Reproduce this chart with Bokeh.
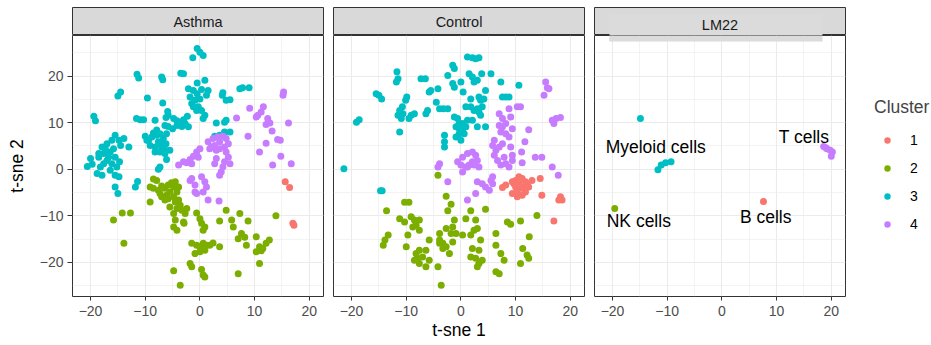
from bokeh.plotting import figure
from bokeh.layouts import column, row
from bokeh.models import FixedTicker, Legend, LegendItem, BoxAnnotation, Range1d, Label
from bokeh.core.properties import value
from bokeh.embed import file_html
from bokeh.resources import INLINE

# ---------------- data ----------------
panels = ["Asthma", "Control", "LM22"]
clusters = ["1", "2", "3", "4"]
cluster_colors = ["#F8766D", "#7CAE00", "#00BFC4", "#C77CFF"]
ticks = [-20, -10, 0, 10, 20]
minor_ticks = [-25, -15, -5, 5, 15, 25]
x_limits = (-23.3, 22.6)
y_limits = (-27.3, 28.7)

asthma_c1 = [(15.6, -2.7), (16.4, -3.9), (17.0, -11.6), (17.2, -12.0)]
asthma_c2 = [(-8.5, -2.1), (-7.9, -2.4), (-9.1, -3.8), (-8.5, -4.1), (-7.6, -4.5), (-7.0, -3.6), (-6.4, -4.1),
             (-5.8, -3.4), (-5.2, -2.9), (-4.5, -2.7), (-4.8, -3.8), (-5.5, -4.9), (-6.1, -5.6), (-7.0, -5.9),
             (-7.3, -5.2), (-6.4, -6.6), (-5.8, -6.3), (-4.8, -5.9), (-4.2, -4.9), (-3.9, -3.8), (-3.9, -6.6),
             (-4.5, -7.0), (-5.5, -8.1), (-4.2, -8.4), (-4.8, -9.5), (-3.6, -7.7), (-3.3, -8.8), (-2.7, -9.5),
             (-2.4, -8.4), (-3.0, -11.3), (-2.9, -11.6), (-4.5, -10.9), (-4.8, -12.4), (-4.2, -13.1), (-9.1, -7.0),
             (-15.8, -10.9), (-14.2, -9.4), (-12.7, -9.4), (-13.9, -15.9), (-0.6, -9.4), (0.0, -10.6), (0.3, -11.6),
             (0.9, -12.4), (0.6, -13.1), (3.6, -11.1), (4.8, -8.8), (5.8, -10.9), (6.1, -12.4), (7.3, -9.5),
             (8.8, -11.1), (7.6, -13.8), (7.0, -14.9), (8.2, -14.6), (8.5, -16.3), (10.3, -14.5), (10.9, -16.6),
             (11.5, -17.0), (12.1, -15.9), (12.7, -15.2), (10.3, -17.7), (11.2, -17.5), (10.9, -20.2), (13.9, -10.0),
             (-1.5, -15.9), (-0.6, -16.3), (0.0, -16.6), (0.6, -15.9), (1.2, -16.3), (1.8, -16.3), (2.4, -15.8),
             (3.6, -16.6), (0.0, -17.7), (-0.9, -18.1), (0.9, -17.4), (-1.8, -20.2), (-1.5, -20.9), (0.3, -21.5),
             (0.6, -22.7), (0.9, -23.1), (7.0, -22.4), (-4.8, -21.8), (-3.6, -24.9)]
asthma_c3 = [(-0.5, 25.9), (0.0, 25.1), (-1.3, 23.9), (0.6, 24.4), (-11.5, 20.4), (-11.2, 19.6), (-7.0, 19.8),
             (-6.8, 19.2), (-3.5, 20.6), (-3.0, 20.5), (-0.5, 18.5), (0.9, 19.1), (-2.1, 17.3), (-1.2, 16.9),
             (-0.5, 16.2), (0.3, 17.1), (1.5, 16.9), (1.2, 15.9), (0.0, 15.1), (-1.8, 15.5), (-0.9, 14.8),
             (-1.5, 14.1), (-0.3, 13.4), (0.3, 12.6), (0.9, 11.6), (0.6, 10.9), (-0.6, 12.6), (-1.2, 13.4),
             (-14.5, 16.6), (-15.0, 15.7), (-9.6, 15.3), (-6.8, 14.2), (4.2, 16.4), (4.8, 14.8), (5.5, 14.9),
             (4.1, 15.9), (7.3, 17.3), (7.8, 17.5), (9.0, 17.5), (-19.4, 11.4), (-19.1, 10.4), (-11.6, 10.9),
             (-10.9, 10.6), (-10.3, 10.6), (-8.2, 10.5), (-5.9, 12.4), (-5.8, 11.6), (-6.2, 11.1), (-4.8, 10.9),
             (-4.2, 10.4), (-3.6, 9.9), (-3.0, 10.6), (-2.3, 11.4), (-2.7, 9.8), (-2.1, 9.1), (-3.3, 9.2),
             (-4.2, 9.4), (-5.0, 8.7), (-5.8, 9.2), (-6.4, 9.4), (3.0, 9.9), (4.5, 10.1), (4.8, 10.5), (5.5, 8.0),
             (4.5, 8.0), (2.7, 7.1), (3.6, 7.3),
             (-20.0, 2.3), (-20.6, 0.6), (-19.7, 1.1), (-18.8, -0.9), (-17.9, -1.3), (-18.2, 0.5), (-17.6, 1.2),
             (-18.5, 3.4), (-17.9, 4.8), (-17.3, 4.4), (-17.0, 5.5), (-16.1, 6.2), (-15.5, 7.3), (-14.8, 6.2),
             (-13.9, 6.6), (-14.5, 5.1), (-15.8, 4.4), (-16.4, 3.7), (-16.7, 2.6), (-17.0, 1.9), (-16.1, 1.2),
             (-15.2, 0.5), (-14.7, 1.6), (-15.5, 2.6), (-17.6, 3.4), (-18.5, 2.6), (-16.4, -0.2), (-15.5, -1.3),
             (-14.8, -1.6), (-13.0, 4.8), (-15.5, -3.8), (-15.0, -5.2), (-11.8, -3.8), (-11.4, -2.6),
             (-10.0, 7.1), (-9.4, 6.2), (-8.5, 7.8), (-7.9, 7.3), (-7.3, 7.6), (-6.7, 6.6), (-7.6, 5.9),
             (-8.2, 4.8), (-9.1, 5.1), (-7.0, 4.8), (-6.2, 5.5), (-7.3, 3.7), (-6.4, 3.4), (-6.1, 2.1),
             (-5.5, 4.1), (-8.2, 3.7), (-7.3, 0.5), (-7.6, 0.0), (-8.8, 6.9), (-7.9, 8.4), (-9.7, 6.2),
             (-6.1, 7.6), (-7.3, 5.5), (-6.5, 4.4)]
asthma_c4 = [(15.3, 16.6), (15.2, 15.9), (9.1, 13.1), (10.6, 11.6), (11.2, 12.3), (11.6, 13.4), (10.3, 11.2),
             (12.4, 10.9), (12.8, 9.9), (12.1, 9.6), (13.2, 8.2), (14.2, 6.4), (14.7, 6.2), (12.1, 5.6),
             (10.9, 3.7), (13.3, 0.9), (14.8, 2.8), (16.2, 9.9), (16.7, 1.2), (6.7, 11.0), (8.8, 7.1),
             (1.5, 5.9), (2.4, 6.6), (3.3, 6.9), (4.2, 7.1), (4.8, 6.6), (3.6, 5.9), (2.7, 5.1), (2.1, 4.8),
             (3.0, 4.1), (3.6, 4.4), (4.5, 4.8), (5.2, 5.5), (4.8, 3.7), (5.2, 2.6), (5.5, 1.2), (4.5, 1.6),
             (4.2, 0.5), (3.9, -0.6), (3.6, -1.3), (3.0, 2.3), (2.7, 1.2), (1.8, 4.4), (0.0, 4.4), (-0.6, 3.7),
             (-1.2, 2.8), (-1.8, 2.1), (-2.4, 1.4), (-3.0, 1.6), (-3.9, 0.9), (-1.5, 1.2), (-0.3, 2.6),
             (-1.5, -2.0), (-1.8, -2.4), (-0.9, -3.4), (-0.9, -4.9), (-0.6, -5.2), (0.3, -1.6), (0.9, -2.7),
             (1.2, -3.8), (0.6, -4.9), (1.5, -6.6), (3.5, -6.8)]

control_c1 = [(7.6, -3.9), (8.2, -3.4), (9.4, -2.7), (10.0, -2.4), (10.6, -1.6), (11.2, -2.0), (11.8, -2.7),
              (12.4, -3.8), (11.8, -4.9), (11.2, -5.6), (10.3, -5.9), (9.4, -5.2), (10.0, -3.8), (10.6, -3.1),
              (11.5, -3.8), (13.0, -2.4), (14.5, -2.0), (14.8, -5.6), (18.2, -5.9), (18.5, -6.6), (17.9, -6.6),
              (17.0, -11.1), (10.9, -4.1), (10.3, -4.9), (12.1, -3.1), (9.7, -3.1)]
control_c2 = [(-4.2, -1.3), (-10.3, -7.1), (-9.5, -7.1), (-13.6, -8.9), (-11.2, -10.6), (-10.3, -11.3),
              (-9.1, -10.2), (-8.5, -10.9), (-8.2, -12.0), (-7.6, -13.1), (-8.8, -12.4), (-7.6, -10.9),
              (-9.7, -14.1), (-10.0, -16.6), (-13.9, -15.2), (-14.2, -16.3), (-13.3, -14.1), (-2.7, -5.8),
              (-1.8, -7.5), (-2.4, -8.9), (-1.2, -10.9), (-1.5, -12.4), (-0.9, -13.8), (-1.8, -13.8),
              (-2.7, -12.7), (-3.9, -15.2), (-3.3, -15.9), (-2.7, -16.6), (-2.1, -18.1), (-3.3, -17.0),
              (-3.9, -15.9), (-5.8, -15.2), (-3.9, -13.8), (-1.5, -15.6), (0.3, -14.1), (0.9, -10.6),
              (1.8, -8.9), (4.5, -8.6), (2.7, -10.9), (2.4, -13.1), (1.8, -14.1), (3.0, -12.7), (-8.2, -18.1),
              (-7.6, -17.4), (-7.0, -18.8), (-6.4, -17.4), (-5.8, -19.5), (-7.6, -20.2), (-6.4, -20.9),
              (-7.9, -19.1), (-8.5, -19.5), (-4.2, -20.9), (-3.6, -24.9), (2.1, -17.0), (3.3, -17.4),
              (1.8, -18.8), (2.7, -19.1), (3.3, -20.2), (3.9, -19.5), (3.0, -20.9), (3.6, -15.2), (6.4, -13.8),
              (6.4, -16.3), (7.3, -18.1), (7.9, -19.5), (6.4, -22.0), (7.0, -22.4), (8.5, -11.3), (9.1, -11.8),
              (10.9, -11.1), (12.5, -14.5), (11.3, -17.0), (12.1, -18.4), (12.4, -19.1), (10.9, -20.2),
              (13.9, -9.9)]
control_c3 = [(-21.4, 0.1), (-19.1, 10.1), (-18.6, 10.6), (-15.5, 16.2), (-14.5, 15.1), (-15.0, 15.9),
              (-11.7, 20.9), (-11.5, 19.4), (-11.8, 18.7), (-14.7, -4.6), (-14.4, -4.6), (-11.2, 8.0),
              (-11.2, 12.6), (-10.7, 13.4), (-9.9, 15.5), (-10.1, 14.8), (-11.5, 11.6), (-10.9, 10.9),
              (-10.6, 11.9), (-9.5, 10.9), (-9.1, 11.6), (-8.5, 11.9), (-7.3, 19.4), (-6.5, 19.4), (-6.4, 11.9),
              (-6.1, 12.6), (-5.8, 16.6), (-5.5, 16.9), (-4.2, 17.3), (-4.5, 14.4), (-2.4, 20.1), (-1.5, 22.3),
              (-1.2, 21.6), (-1.2, 17.6), (-1.5, 18.4), (0.0, 18.7), (0.4, 16.6), (1.8, 15.1), (1.5, 20.5),
              (2.1, 19.8), (2.4, 18.7), (3.0, 19.1), (3.8, 20.5), (5.5, 20.5), (1.2, 24.1), (2.1, 23.9),
              (2.7, 23.7), (3.3, 23.9), (-3.9, 13.0), (-3.2, 13.0), (-2.4, 13.0), (-1.2, 11.2), (-0.6, 10.9),
              (-0.3, 9.8), (-0.9, 9.1), (-0.3, 8.7), (0.3, 8.4), (0.6, 7.6), (0.9, 9.1), (1.2, 10.5), (0.3, 9.8),
              (0.0, 6.2), (-0.9, 6.9), (-0.3, 7.6), (-3.0, 7.3), (-3.0, 5.9), (-3.0, 4.8), (0.9, 13.4),
              (1.8, 13.4), (2.4, 12.6), (3.0, 13.0), (3.3, 12.3), (3.9, 13.4), (3.6, 14.8), (4.2, 15.1),
              (3.3, 15.5), (4.5, 16.9), (3.6, 11.6), (3.0, 9.1), (4.5, 9.1), (2.1, 10.5), (7.3, 18.7),
              (7.6, 15.5), (8.2, 15.5), (8.8, 15.5), (10.6, 18.0)]
control_c4 = [(15.5, 18.7), (15.8, 17.5), (15.2, 15.9), (16.1, 17.3), (16.7, 10.5), (17.4, 10.9), (18.2, 11.1),
              (17.0, 9.8), (8.8, 13.0), (10.3, 13.4), (10.9, 13.4), (7.0, 11.9), (7.6, 10.9), (7.0, 9.4),
              (7.6, 9.1), (8.2, 9.8), (9.1, 11.2), (9.4, 8.7), (8.8, 6.9), (7.3, 8.0), (8.2, 7.6), (6.1, 6.2),
              (5.8, 5.1), (6.4, 4.1), (7.0, 4.8), (7.6, 5.5), (6.1, 3.0), (6.7, 1.9), (7.3, 0.9), (7.9, 2.6),
              (8.2, 1.2), (9.1, 4.8), (9.4, 3.0), (8.8, 0.5), (9.4, 1.9), (11.1, 3.7), (11.7, 5.9), (12.4, 8.5),
              (13.6, 2.6), (14.8, 2.6), (11.2, 1.4), (16.7, 0.5), (17.8, -1.3), (0.3, 2.6), (1.2, 3.4),
              (2.1, 3.7), (2.7, 3.0), (3.0, 1.9), (2.1, 1.6), (1.5, 0.9), (0.9, 0.5), (0.0, 0.9), (-0.6, 1.6),
              (0.3, -0.6), (1.2, 0.5), (2.4, 0.9), (3.3, 0.5), (-3.9, 1.2), (-4.2, 0.5), (-2.4, -2.7),
              (3.0, -2.7), (3.9, -3.1), (4.5, -3.8), (5.5, -2.4), (5.8, -3.1), (5.2, -4.5), (5.8, -1.6),
              (2.7, -5.2), (1.2, -6.6)]

lm22_c1 = [(7.6, -6.9)]
lm22_c2 = [(-19.6, -8.4)]
lm22_c3 = [(-14.9, 10.9), (-11.7, -0.1), (-11.1, 0.9), (-10.3, 1.4), (-9.3, 1.6)]
lm22_c4 = [(18.6, 4.9), (19.2, 4.4), (19.8, 4.1), (20.2, 3.7), (20.0, 2.8), (19.0, 4.6)]

lm22_labels = ["Myeloid cells", "T cells", "NK cells", "B cells"]
lm22_label_x = [-12.1, 15.0, -15.2, 8.0]
lm22_label_y = [4.8, 6.9, -11.1, -10.2]

panel_data = {
    "Asthma": [asthma_c1, asthma_c2, asthma_c3, asthma_c4],
    "Control": [control_c1, control_c2, control_c3, control_c4],
    "LM22": [lm22_c1, lm22_c2, lm22_c3, lm22_c4],
}

# ---------------- styling ----------------
FONT = "Liberation Sans"
FRAME_W = 251
FRAME_H = 261
TOP_PAD = 7
STRIP_H = 28
BOTTOM = 49
GAP = 5
LEFT1 = 72
LEGEND_W = 81

xr = Range1d(*x_limits)
yr = Range1d(*y_limits)


def style_grid(p):
    for g in (p.xgrid, p.ygrid):
        g.ticker = FixedTicker(ticks=ticks, minor_ticks=minor_ticks)
        g.grid_line_color = "#EBEBEB"
        g.grid_line_width = 1.1
        g.minor_grid_line_color = "#EBEBEB"
        g.minor_grid_line_width = 0.6


def style_axis(ax):
    ax.ticker = FixedTicker(ticks=ticks, minor_ticks=[])
    ax.axis_line_color = None
    ax.major_tick_line_color = "#333333"
    ax.major_tick_out = 4
    ax.major_tick_in = 0
    ax.minor_tick_line_color = None
    ax.major_label_text_font = FONT
    ax.major_label_text_font_size = "14px"
    ax.major_label_text_color = "#4D4D4D"
    ax.major_label_standoff = 5
    ax.axis_label_text_font = FONT
    ax.axis_label_text_font_size = "17.5px"
    ax.axis_label_text_font_style = "normal"
    ax.axis_label_text_color = "black"


def make_panel(name, left, show_y, xlabel):
    p = figure(width=left + FRAME_W + GAP, height=FRAME_H + BOTTOM, x_range=xr, y_range=yr,
               output_backend="svg", toolbar_location=None,
               y_axis_location="left" if show_y else None,
               min_border_left=left, min_border_right=GAP, min_border_top=0, min_border_bottom=BOTTOM)
    p.outline_line_color = "#333333"
    p.outline_line_width = 1
    p.background_fill_color = "white"
    p.border_fill_color = "white"
    style_grid(p)
    style_axis(p.xaxis[0])
    if xlabel:
        p.xaxis[0].axis_label = xlabel
        p.xaxis[0].axis_label_standoff = 1
    if show_y:
        style_axis(p.yaxis[0])
        p.yaxis[0].major_tick_out = 5
        p.yaxis[0].major_label_standoff = 4
        p.yaxis[0].axis_label = "t-sne 2"
        p.yaxis[0].axis_label_standoff = 10
    for pts, col in zip(panel_data[name], cluster_colors):
        xs = [a for a, b in pts]
        ys = [b for a, b in pts]
        p.scatter(xs, ys, size=7, fill_color=col, line_color=None)
    return p


def make_strip(name, left):
    s = figure(width=left + FRAME_W + GAP, height=TOP_PAD + STRIP_H, x_range=(0, 1), y_range=(0, 1),
               output_backend="svg", toolbar_location=None,
               x_axis_location=None, y_axis_location=None,
               min_border_left=left, min_border_right=GAP, min_border_top=TOP_PAD, min_border_bottom=0)
    s.grid.visible = False
    s.background_fill_color = "#D9D9D9"
    s.border_fill_color = "white"
    s.outline_line_color = "#333333"
    s.outline_line_width = 1
    ty = 0.5
    if name == "LM22":
        s.add_layout(BoxAnnotation(left=0.06, right=0.908, bottom=-0.08, top=0.72,
                                   fill_color="#DBDBDB", fill_alpha=1, line_color=None, level="overlay"))
        ty = 0.36
    s.add_layout(Label(x=0.5, y=ty, text=name, text_align="center", text_baseline="middle",
                       text_font=FONT, text_font_size="14.5px", text_color="#1A1A1A", level="overlay"))
    return s


p1 = make_panel("Asthma", LEFT1, True, None)
p2 = make_panel("Control", GAP, False, "t-sne 1")
p3 = make_panel("LM22", GAP, False, None)

# label box overlapping the panel top in LM22
p3.add_layout(BoxAnnotation(left=-20.6, right=18.4, top=y_limits[1] + 0.3, bottom=y_limits[1] - 1.3,
                            fill_color="#DBDBDB", fill_alpha=1, line_color=None, level="overlay"))
p3.text(x=lm22_label_x, y=lm22_label_y, text=lm22_labels, text_align="center", text_baseline="middle",
        text_font=value(FONT), text_font_size="17.5px", text_color="black")

s1 = make_strip("Asthma", LEFT1)
s2 = make_strip("Control", GAP)
s3 = make_strip("LM22", GAP)

# legend figure
leg = figure(width=LEGEND_W, height=FRAME_H + BOTTOM, x_range=(0, 1), y_range=(0, 1),
             output_backend="svg", toolbar_location=None,
             x_axis_location=None, y_axis_location=None,
             min_border_left=0, min_border_right=0, min_border_top=0, min_border_bottom=0)
leg.grid.visible = False
leg.outline_line_color = None
items = []
nan = float("nan")
for lab, col in zip(clusters, cluster_colors):
    r = leg.scatter(x=[nan], y=[nan], size=7, fill_color=col, line_color=None)
    items.append(LegendItem(label=value(lab), renderers=[r]))
legend = Legend(items=items, location=(24, 64), title="Cluster",
                title_text_font=FONT, title_text_font_size="17.5px", title_text_font_style="normal",
                title_standoff=14, label_text_font=FONT, label_text_font_size="14px",
                label_text_color="black", label_standoff=10, glyph_width=26, glyph_height=16,
                label_height=16, spacing=12, padding=0, margin=0, border_line_color=None,
                background_fill_alpha=0)
leg.add_layout(legend)

layout = column(row(s1, s2, s3), row(p1, p2, p3, leg))

open("out.html", "w").write(file_html(layout, INLINE))
